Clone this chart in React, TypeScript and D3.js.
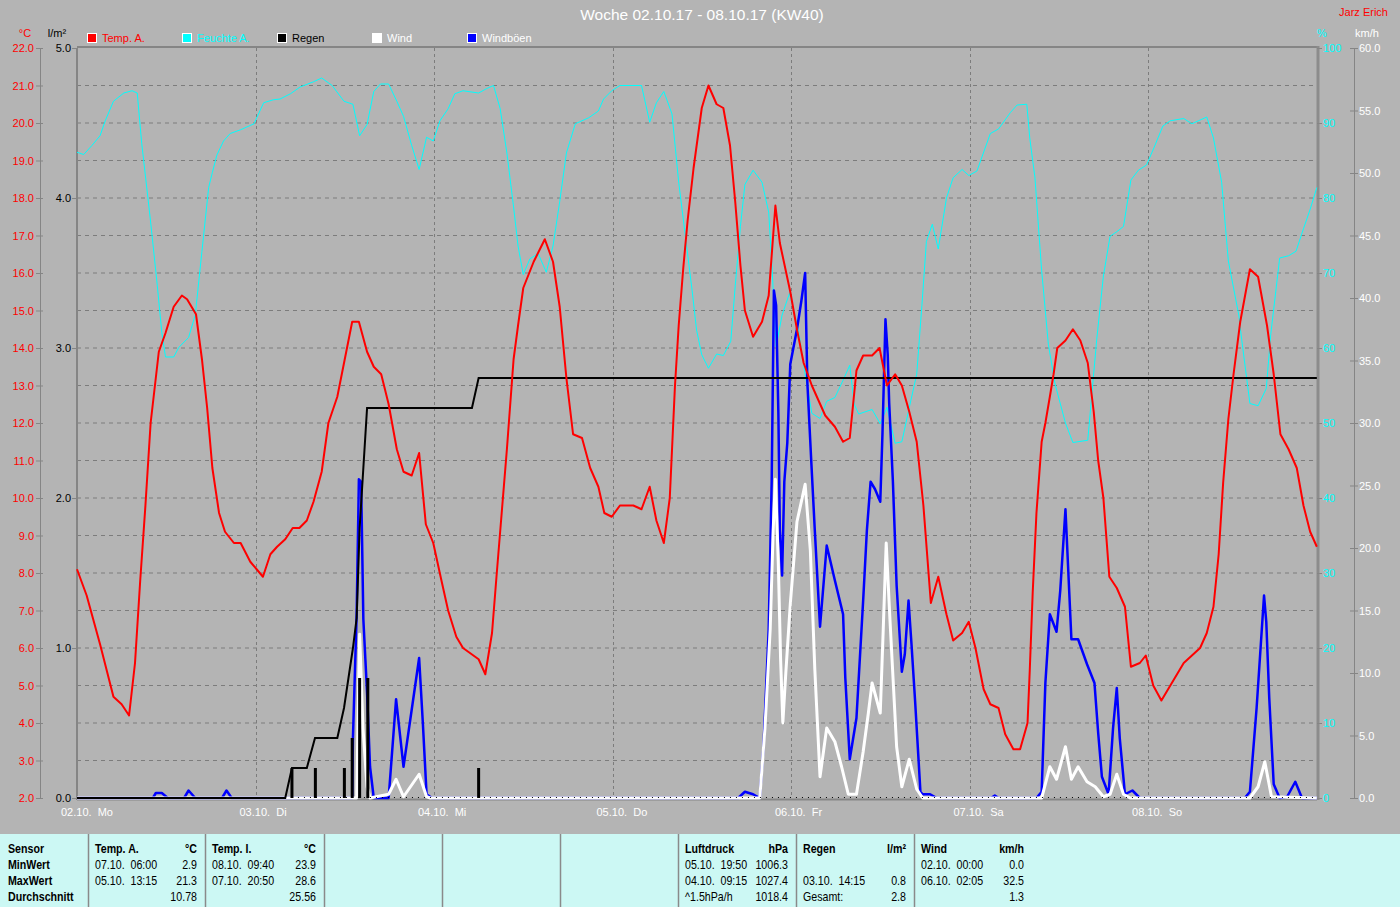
import React from 'react';
import * as d3 from 'd3';

// ---------- data (hours since 02.10. 00:00, value) ----------
const dayLabels = ['02.10.  Mo', '03.10.  Di', '04.10.  Mi', '05.10.  Do', '06.10.  Fr', '07.10.  Sa', '08.10.  So'];
const hourSpan = 166.72;

const tempA: [number, number][] = [
  [0, 8.1], [1.3, 7.4], [3.1, 6.1], [4.9, 4.7], [6.0, 4.5], [7.0, 4.2], [7.8, 5.6], [8.5, 7.8], [9.2, 9.8], [9.9, 12.0],
  [11.0, 13.9], [11.9, 14.4], [13.0, 15.1], [14.1, 15.4], [14.8, 15.3], [16.0, 14.9], [16.8, 13.7], [17.5, 12.4], [18.2, 10.8],
  [19.1, 9.6], [19.9, 9.1], [21.1, 8.8], [22.0, 8.8], [23.3, 8.3], [25.0, 7.9], [26.0, 8.5], [26.9, 8.7], [28.0, 8.9],
  [29.0, 9.2], [29.9, 9.2], [30.9, 9.4], [31.8, 9.9], [32.9, 10.7], [33.8, 12.0], [35.0, 12.7], [35.9, 13.6], [37.0, 14.7],
  [37.9, 14.7], [39.0, 13.9], [39.9, 13.5], [40.9, 13.3], [41.9, 12.5], [43.0, 11.3], [43.9, 10.7], [45.0, 10.6], [46.0, 11.2],
  [46.9, 9.3], [47.9, 8.8], [49.0, 7.8], [49.9, 7.0], [51.0, 6.3], [51.9, 6.0], [54.0, 5.7], [54.9, 5.3], [55.8, 6.4],
  [56.4, 7.9], [57.1, 9.6], [57.8, 11.3], [58.7, 13.7], [59.3, 14.6], [60.0, 15.6], [61.4, 16.3], [62.9, 16.9], [64.0, 16.3],
  [64.9, 15.1], [65.8, 13.2], [66.7, 11.7], [67.9, 11.6], [69.0, 10.8], [70.1, 10.3], [70.9, 9.6], [71.9, 9.5], [73.0, 9.8],
  [74.8, 9.8], [75.9, 9.7], [77.0, 10.3], [77.9, 9.4], [78.9, 8.8], [79.7, 10.0], [80.4, 13.0], [80.9, 14.6], [81.5, 16.1],
  [82.1, 17.4], [82.9, 18.8], [84.0, 20.4], [84.9, 21.0], [86.0, 20.5], [86.9, 20.4], [87.8, 19.4], [88.5, 17.9], [89.2, 16.2],
  [89.8, 15.0], [90.9, 14.3], [92.1, 14.7], [93.0, 15.4], [93.9, 17.8], [94.5, 16.8], [95.9, 15.5], [96.8, 14.5], [97.7, 13.6],
  [98.8, 13.0], [100.6, 12.2], [101.9, 11.9], [103.0, 11.5], [103.9, 11.6], [104.8, 13.4], [105.7, 13.8], [106.9, 13.8],
  [107.9, 14.0], [108.9, 13.0], [110.0, 13.3], [110.9, 13.0], [111.9, 12.3], [112.9, 11.5], [113.8, 9.8], [114.8, 7.2],
  [115.8, 7.9], [116.9, 6.9], [117.8, 6.2], [119.0, 6.4], [119.9, 6.7], [120.8, 6.0], [121.9, 4.9], [122.8, 4.5], [123.9, 4.4],
  [124.8, 3.7], [125.9, 3.3], [126.8, 3.3], [127.8, 4.0], [128.1, 5.4], [128.5, 7.5], [129.0, 9.6], [129.7, 11.5], [130.2, 12.0],
  [130.8, 12.7], [131.3, 13.3], [131.8, 14.0], [132.9, 14.2], [133.9, 14.5], [134.9, 14.2], [135.9, 13.6], [136.7, 12.3],
  [137.3, 11.0], [138.0, 10.0], [138.8, 7.9], [139.8, 7.6], [140.9, 7.1], [141.7, 5.5], [142.9, 5.6], [143.7, 5.8], [144.7, 5.0],
  [145.8, 4.6], [147.0, 5.0], [148.8, 5.6], [149.9, 5.8], [151.0, 6.0], [151.9, 6.4], [152.8, 7.1], [153.5, 8.5], [154.1, 10.4],
  [154.8, 12.1], [155.5, 13.3], [156.4, 14.7], [157.7, 16.1], [158.8, 15.9], [160.0, 14.6], [160.9, 13.3], [161.8, 11.7],
  [162.9, 11.3], [164.0, 10.8], [164.9, 9.8], [165.8, 9.1], [166.7, 8.7],
];

const humidity: [number, number][] = [
  [0, 86.1], [0.9, 85.8], [2.0, 87.0], [3.1, 88.3], [3.8, 90.3], [4.9, 92.9], [6.3, 94.0], [7.4, 94.3], [8.1, 94.0], [8.7, 87.3],
  [9.9, 76.8], [10.8, 68.3], [11.4, 62.1], [11.9, 58.8], [13.0, 58.8], [13.7, 60.1], [15.0, 61.4], [15.9, 64.4], [16.8, 72.9],
  [17.7, 81.4], [18.2, 83.4], [18.8, 85.7], [19.7, 87.6], [20.6, 88.6], [22.0, 89.1], [23.8, 89.9], [24.4, 91.2], [25.1, 92.7],
  [26.4, 93.1], [27.3, 93.2], [28.7, 93.9], [30.0, 94.8], [31.8, 95.5], [32.9, 96.0], [34.3, 95.0], [35.9, 92.9], [37.1, 92.5],
  [38.0, 88.3], [39.0, 89.8], [39.9, 94.2], [40.8, 95.2], [41.9, 95.2], [43.0, 92.9], [43.9, 90.9], [45.0, 87.0], [46.0, 83.8],
  [47.0, 88.1], [47.9, 87.6], [48.8, 90.3], [49.9, 91.9], [50.8, 93.9], [51.9, 94.3], [54.0, 94.0], [55.1, 94.6], [56.0, 95.0],
  [56.9, 91.9], [57.8, 86.0], [58.7, 78.8], [59.3, 73.6], [60.0, 69.8], [60.9, 71.9], [62.0, 72.6], [63.1, 70.1], [64.0, 73.6],
  [64.9, 79.5], [65.8, 86.0], [67.0, 89.9], [68.8, 90.7], [70.1, 91.6], [70.8, 93.2], [71.9, 94.3], [73.0, 95.0], [75.9, 95.0],
  [77.0, 90.1], [77.9, 92.7], [78.9, 94.2], [80.0, 91.2], [80.9, 82.1], [81.8, 74.9], [82.7, 67.7], [83.3, 62.4], [84.0, 59.1],
  [84.9, 57.3], [86.0, 59.2], [86.9, 59.0], [87.9, 60.9], [88.5, 68.3], [89.2, 76.2], [89.8, 81.8], [90.9, 83.7], [92.1, 82.1],
  [93.0, 78.1], [93.4, 71.6], [94.0, 60.2], [94.8, 64.4], [95.8, 67.3], [97.0, 62.4], [97.9, 56.5], [98.8, 51.3], [99.9, 50.6],
  [100.8, 52.9], [101.9, 53.4], [103.0, 55.7], [103.9, 57.7], [104.5, 52.5], [105.1, 51.2], [106.9, 51.8], [108.0, 49.9],
  [108.9, 52.1], [110.0, 47.3], [110.9, 47.5], [112.0, 52.5], [112.9, 56.5], [113.6, 65.7], [114.2, 74.2], [115.0, 76.5],
  [115.8, 73.2], [116.9, 80.0], [117.8, 82.7], [119.0, 83.8], [119.9, 83.0], [121.0, 83.6], [122.8, 88.6], [123.9, 89.2],
  [125.5, 91.4], [126.4, 92.4], [127.7, 92.5], [128.1, 88.0], [128.8, 82.7], [129.7, 70.3], [130.6, 60.5], [131.5, 55.2],
  [132.9, 50.0], [133.9, 47.4], [135.9, 47.7], [137.1, 61.1], [138.0, 69.6], [138.9, 74.9], [139.8, 75.5], [140.7, 76.2],
  [141.7, 82.4], [142.7, 83.7], [143.8, 84.4], [144.8, 86.7], [146.0, 89.6], [147.0, 90.3], [148.8, 90.6], [149.9, 89.9],
  [151.9, 90.8], [152.8, 88.0], [153.9, 82.1], [154.8, 71.6], [156.2, 64.4], [156.6, 61.1], [157.7, 52.6], [158.8, 52.3],
  [159.9, 54.6], [160.5, 61.8], [161.7, 72.0], [162.9, 72.3], [163.9, 72.9], [164.9, 75.9], [165.8, 78.5], [166.7, 81.4],
];

const rainTotal: [number, number][] = [
  [0, 0], [28.0, 0], [28.9, 0.2], [30.9, 0.2], [32.0, 0.4], [35.0, 0.4], [35.9, 0.6], [36.5, 0.8], [37.1, 1.0], [37.6, 1.2],
  [38.0, 1.8], [38.5, 2.2], [39.0, 2.6], [53.1, 2.6], [54.0, 2.8], [166.7, 2.8],
];

const rainBars: [number, number][] = [
  [28.9, 0.2], [32.05, 0.2], [35.95, 0.2], [37.0, 0.4], [38.0, 0.8], [39.1, 0.8], [54.0, 0.2],
];

const wind: [number, number][] = [
  [0, 0], [37.6, 0], [38.0, 13.1], [38.45, 5.6], [39.0, 0.9], [39.4, 0], [41.9, 0.3], [42.9, 1.5], [43.9, 0.1], [46.0, 1.9],
  [47.0, 0.1], [47.5, 0], [91.8, 0], [92.5, 5.6], [93.2, 13.5], [93.6, 21.4], [93.9, 25.5], [94.3, 18.6], [94.6, 11.1],
  [94.9, 6.0], [95.3, 10.0], [95.9, 15.5], [96.8, 22.1], [97.9, 25.1], [98.6, 19.8], [99.2, 10.3], [99.9, 1.7], [100.8, 5.6],
  [101.9, 4.5], [102.8, 2.5], [103.7, 0.3], [104.8, 0.3], [105.7, 3.7], [106.4, 6.8], [106.9, 9.2], [108.0, 6.8], [108.4, 13.5],
  [108.8, 20.4], [109.3, 14.3], [110.2, 4.1], [110.9, 0.9], [111.9, 3.1], [112.9, 0.7], [113.7, 0], [129.7, 0], [130.8, 2.5],
  [131.7, 1.5], [132.9, 4.1], [133.7, 1.5], [134.6, 2.5], [135.8, 1.3], [136.9, 0.9], [138.0, 0.1], [138.9, 0.3], [139.8, 1.9],
  [140.7, 0.3], [141.6, 0], [157.7, 0], [158.8, 0.9], [159.7, 2.9], [160.6, 0.1], [166.7, 0],
];

const gusts: [number, number][] = [
  [0, 0], [10.2, 0], [10.6, 0.4], [11.4, 0.4], [12.2, 0], [14.4, 0], [15.0, 0.6], [15.9, 0], [19.5, 0], [20.1, 0.6], [20.8, 0],
  [37.0, 0], [37.1, 4.8], [37.6, 14.7], [37.9, 25.5], [38.2, 25.3], [38.5, 14.3], [39.0, 8.4], [39.4, 2.5], [39.9, 0],
  [41.9, 0], [42.9, 7.9], [43.9, 2.5], [46.0, 11.2], [46.5, 6.0], [47.0, 0.3], [47.7, 0], [88.9, 0], [89.8, 0.5], [90.9, 0.3],
  [91.8, 0], [92.3, 4.1], [93.0, 13.5], [93.4, 25.3], [93.7, 40.6], [94.0, 39.4], [94.3, 30.8], [94.5, 21.4], [94.8, 17.8],
  [95.1, 25.3], [95.5, 28.4], [95.9, 34.7], [96.8, 37.5], [97.4, 39.8], [97.9, 42.0], [98.2, 33.2], [98.7, 27.2], [99.2, 21.4],
  [99.9, 13.7], [100.8, 20.2], [101.9, 17.4], [103.0, 14.7], [103.3, 9.6], [103.9, 3.1], [104.8, 6.4], [105.7, 15.8],
  [106.2, 21.4], [106.7, 25.3], [107.3, 24.7], [108.0, 23.7], [108.3, 29.2], [108.7, 38.3], [109.0, 35.5], [109.2, 31.6],
  [109.7, 25.3], [110.2, 17.0], [110.9, 10.1], [111.3, 11.5], [111.8, 15.8], [112.2, 12.3], [112.7, 7.6], [113.4, 0.5],
  [113.7, 0.3], [114.7, 0.3], [115.6, 0], [122.9, 0], [123.4, 0.2], [123.9, 0], [129.0, 0], [129.7, 0.5], [130.2, 9.2],
  [130.8, 14.7], [131.7, 13.3], [132.2, 16.6], [132.9, 23.1], [133.7, 12.7], [134.6, 12.7], [135.8, 10.7], [136.8, 9.2],
  [137.3, 5.2], [137.8, 1.7], [138.7, 0.3], [139.3, 5.6], [139.8, 8.8], [140.2, 4.8], [140.9, 0.3], [141.9, 0.6], [142.9, 0],
  [157.0, 0], [157.7, 0.5], [158.6, 7.2], [159.3, 13.5], [159.6, 16.2], [159.9, 14.1], [160.3, 8.0], [160.9, 1.1], [161.7, 0],
  [162.7, 0.1], [163.8, 1.3], [164.7, 0], [166.7, 0],
];

const tempTicks = d3.range(2, 22.001, 1);
const rainTicks = d3.range(0, 5.001, 1);
const humTicks = d3.range(0, 100.001, 10);
const windTicks = d3.range(0, 60.001, 5);

const legendItems = [
  { label: 'Temp. A.', fill: '#ff0000', text: '#ff0000' },
  { label: 'Feuchte A.', fill: '#00ffff', text: '#00ffff' },
  { label: 'Regen', fill: '#000000', text: '#000000' },
  { label: 'Wind', fill: '#ffffff', text: '#ffffff' },
  { label: 'Windböen', fill: '#0000ff', text: '#ffffff' },
];

const tableRowLabels = ['Sensor', 'MinWert', 'MaxWert', 'Durchschnitt'];
const tableSeparators = [88, 205, 324, 442, 560, 678, 796, 914, 1032];
const tableColumns = [
  { head: 'Temp. A.', unit: '°C', rows: [['07.10.  06:00', '2.9'], ['05.10.  13:15', '21.3'], ['', '10.78']] },
  { head: 'Temp. I.', unit: '°C', rows: [['08.10.  09:40', '23.9'], ['07.10.  20:50', '28.6'], ['', '25.56']] },
  { head: '', unit: '', rows: [['', ''], ['', ''], ['', '']] },
  { head: '', unit: '', rows: [['', ''], ['', ''], ['', '']] },
  { head: '', unit: '', rows: [['', ''], ['', ''], ['', '']] },
  { head: 'Luftdruck', unit: 'hPa', rows: [['05.10.  19:50', '1006.3'], ['04.10.  09:15', '1027.4'], ['^1.5hPa/h', '1018.4']] },
  { head: 'Regen', unit: 'l/m²', rows: [['', ''], ['03.10.  14:15', '0.8'], ['Gesamt:', '2.8']] },
  { head: 'Wind', unit: 'km/h', rows: [['02.10.  00:00', '0.0'], ['06.10.  02:05', '32.5'], ['', '1.3']] },
];

// ---------- layout ----------
const W = 1400, H = 907;
const L = 77, R = 1317, T = 48, B = 798;
const BG = '#b4b4b4';
const FONT = '"Liberation Sans", Arial, sans-serif';
const SX = 0.82; // horizontal condensing for the table font

function NText(props: { x: number; y: number; anchor?: 'start' | 'end'; bold?: boolean; children: React.ReactNode }) {
  return (
    <text transform={`translate(${props.x},${props.y}) scale(${SX},1)`} textAnchor={props.anchor || 'start'}
      fontWeight={props.bold ? 'bold' : 'normal'} style={{ whiteSpace: 'pre' }}>{props.children}</text>
  );
}

export default function App() {
  const x = d3.scaleLinear().domain([0, hourSpan]).range([L, R]);
  const yT = d3.scaleLinear().domain([2, 22]).range([B, T]);
  const yR = d3.scaleLinear().domain([0, 5]).range([B, T]);
  const yH = d3.scaleLinear().domain([0, 100]).range([B, T]);
  const yW = d3.scaleLinear().domain([0, 60]).range([B, T]);

  const mk = (ys: d3.ScaleLinear<number, number>) =>
    d3.line<[number, number]>().x((d) => x(d[0])).y((d) => ys(d[1]));

  const dayHours = dayLabels.map((_, i) => i * 24);

  return (
    <svg width={W} height={H} style={{ position: 'absolute', left: 0, top: 0, background: BG, display: 'block' }}
      fontFamily={FONT}>
      <rect x={0} y={0} width={W} height={H} fill={BG} />

      {/* title */}
      <text x={702} y={20} textAnchor="middle" fill="#ffffff" fontSize={15.5}>Woche 02.10.17 - 08.10.17 (KW40)</text>
      <text x={1388} y={16} textAnchor="end" fill="#ff0000" fontSize={11}>Jarz Erich</text>

      {/* units */}
      <text x={25} y={37} textAnchor="middle" fill="#ff0000" fontSize={11}>°C</text>
      <text x={57} y={37} textAnchor="middle" fill="#000000" fontSize={11}>l/m²</text>
      <text x={1322} y={37} textAnchor="middle" fill="#00ffff" fontSize={11}>%</text>
      <text x={1367} y={37} textAnchor="middle" fill="#ffffff" fontSize={11}>km/h</text>

      {/* legend */}
      {legendItems.map((it, i) => (
        <g key={it.label} transform={`translate(${87 + i * 95},33)`}>
          <rect x={0} y={0} width={10} height={10} fill="#ffffff" />
          <rect x={1} y={1} width={8} height={8} fill={it.fill} />
          <text x={15} y={9} fill={it.text} fontSize={11}>{it.label}</text>
        </g>
      ))}

      {/* horizontal grid */}
      {tempTicks.filter((t) => t > 2 && t < 22).map((t) => (
        <line key={'hg' + t} x1={L} x2={R} y1={yT(t)} y2={yT(t)} stroke="#7c7c7c" strokeDasharray="4,4" />
      ))}
      {/* vertical grid */}
      {dayHours.slice(1).map((h) => (
        <line key={'vg' + h} x1={Math.round(x(h)) + 0.5} x2={Math.round(x(h)) + 0.5} y1={T} y2={B}
          stroke="#7c7c7c" strokeDasharray="3,3" />
      ))}

      {/* frame */}
      <line x1={L} x2={R} y1={T - 1} y2={T - 1} stroke="#858585" strokeWidth={2} />
      <line x1={L} x2={L} y1={T} y2={B + 2} stroke="#858585" strokeWidth={2} />
      <line x1={R + 1} x2={R + 1} y1={T - 2} y2={B + 2} stroke="#8c8c8c" strokeWidth={3} />
      <line x1={L} x2={R} y1={B + 1.5} y2={B + 1.5} stroke="#858585" strokeWidth={2} />

      {/* temp axis (left, red) */}
      <line x1={40.5} x2={40.5} y1={T} y2={B} stroke="#858585" />
      {tempTicks.map((t) => (
        <g key={'tt' + t}>
          <line x1={36} x2={43} y1={yT(t) + 0.5} y2={yT(t) + 0.5} stroke="#858585" />
          <text x={34} y={yT(t) + 4} textAnchor="end" fill="#ff0000" fontSize={11}>{t.toFixed(1)}</text>
        </g>
      ))}
      {/* rain axis */}
      {rainTicks.map((t) => (
        <g key={'rt' + t}>
          <line x1={72} x2={77} y1={yR(t) + 0.5} y2={yR(t) + 0.5} stroke="#858585" />
          <text x={71} y={yR(t) + 4} textAnchor="end" fill="#000000" fontSize={11}>{t.toFixed(1)}</text>
        </g>
      ))}
      {/* humidity axis */}
      {humTicks.map((t) => (
        <g key={'ht' + t}>
          <line x1={R} x2={R + 5} y1={yH(t) + 0.5} y2={yH(t) + 0.5} stroke="#858585" />
          <text x={R + 6} y={yH(t) + 4} fill="#00ffff" fontSize={11}>{t}</text>
        </g>
      ))}
      {/* wind axis */}
      <line x1={1354.5} x2={1354.5} y1={T} y2={B} stroke="#858585" />
      {windTicks.map((t) => (
        <g key={'wt' + t}>
          <line x1={1350} x2={1358} y1={yW(t) + 0.5} y2={yW(t) + 0.5} stroke="#858585" />
          <text x={1359} y={yW(t) + 4} fill="#ffffff" fontSize={11}>{t.toFixed(1)}</text>
        </g>
      ))}

      {/* x labels */}
      {dayLabels.map((lab, i) => (
        <text key={lab} x={x(dayHours[i]) - 16} y={816} fill="#ffffff" fontSize={11} style={{ whiteSpace: 'pre' }}>{lab}</text>
      ))}

      {/* series */}
      <path d={mk(yH)(humidity) || ''} fill="none" stroke="#00ffff" strokeWidth={1} />
      <path d={mk(yW)(gusts) || ''} fill="none" stroke="#0000ff" strokeWidth={2.5} strokeLinejoin="round" />
      <path d={mk(yW)(wind) || ''} fill="none" stroke="#ffffff" strokeWidth={3} strokeLinejoin="round" />
      <line x1={x(28.9)} x2={R} y1={B - 0.5} y2={B - 0.5} stroke="#000000" strokeDasharray="1,5" />
      {rainBars.map((d, i) => (
        <rect key={'rb' + i} x={x(d[0]) - 1.5} width={3} y={yR(d[1])} height={B - yR(d[1])} fill="#000000" />
      ))}
      <path d={mk(yR)(rainTotal) || ''} fill="none" stroke="#000000" strokeWidth={2} />
      <path d={mk(yT)(tempA) || ''} fill="none" stroke="#ff0000" strokeWidth={2} strokeLinejoin="round" />

      {/* stats table */}
      <rect x={0} y={834} width={W} height={H - 834} fill="#ccf8f4" />
      {tableSeparators.slice(0, 8).map((sx) => (
        <line key={'ts' + sx} x1={sx + 0.5} x2={sx + 0.5} y1={834} y2={H} stroke="#8a8a8a" strokeWidth={1.5} />
      ))}
      <g fontSize={13} fill="#000000">
        {tableRowLabels.map((lab, r) => (
          <NText key={lab} x={8} y={853 + r * 16} bold>{lab}</NText>
        ))}
        {tableColumns.map((col, c) => {
          const left = tableSeparators[c] + 7;
          const right = tableSeparators[c + 1] - 8;
          return (
            <g key={'tc' + c}>
              {col.head && <NText x={left} y={853} bold>{col.head}</NText>}
              {col.unit && <NText x={right} y={853} bold anchor="end">{col.unit}</NText>}
              {col.rows.map((row, r) => (
                <g key={'r' + r}>
                  {row[0] && <NText x={left} y={869 + r * 16}>{row[0]}</NText>}
                  {row[1] && <NText x={right} y={869 + r * 16} anchor="end">{row[1]}</NText>}
                </g>
              ))}
            </g>
          );
        })}
      </g>
    </svg>
  );
}
